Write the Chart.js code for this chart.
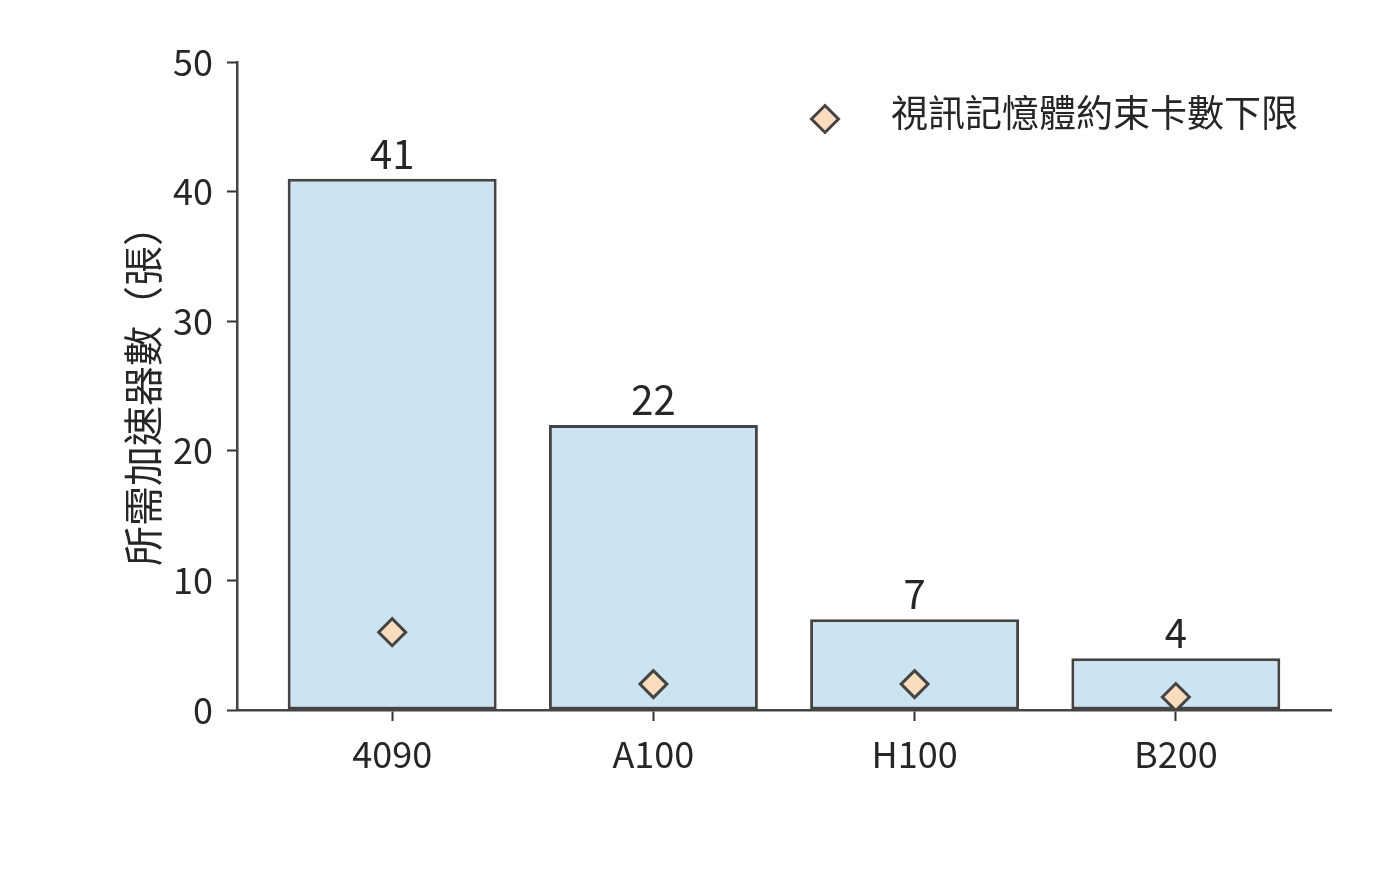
<!DOCTYPE html>
<html>
<head>
<meta charset="utf-8">
<script src="https://cdn.jsdelivr.net/npm/chart.js@4.4.1/dist/chart.umd.min.js"></script>
<style>
  html, body { margin: 0; padding: 0; background: #fff; }
</style>
</head>
<body>
<canvas id="myChart" width="1400" height="888"></canvas>
<script>
// data
const gpus = ['4090', 'A100', 'H100', 'B200'];
const cardsNeeded = [41, 22, 7, 4];
const vramFloor = [6, 2, 2, 1];
const legendLabel = '視訊記憶體約束卡數下限';
const yTitle = '所需加速器數（張）';

const FONT = '"Noto Sans CJK TC", "Noto Sans CJK SC", "Noto Sans", sans-serif';
const INK = '#262626';
const EDGE = '#444444';
const BAR_FILL = 'rgb(205, 227, 242)';
const DIAMOND_FILL = 'rgb(251, 220, 188)';

Chart.defaults.font.family = FONT;
Chart.defaults.color = INK;

// numbers over the bars
const barLabels = {
    id: 'barLabels',
    afterDatasetsDraw(chart) {
        const ctx = chart.ctx;
        const meta = chart.getDatasetMeta(0);
        ctx.save();
        ctx.font = '40px ' + FONT;
        ctx.fillStyle = INK;
        ctx.textAlign = 'center';
        ctx.textBaseline = 'alphabetic';
        meta.data.forEach((bar, i) => {
            ctx.fillText(String(cardsNeeded[i]), bar.x, bar.y - 10);
        });
        ctx.restore();
    }
};

// legend sitting inside the plot, top right (matplotlib style)
const innerLegend = {
    id: 'innerLegend',
    afterDraw(chart) {
        const ctx = chart.ctx;
        const area = chart.chartArea;
        ctx.save();
        ctx.font = '37px ' + FONT;
        ctx.fillStyle = INK;
        ctx.textAlign = 'right';
        ctx.textBaseline = 'middle';
        const textRight = area.right - 33;
        const textX = textRight - ctx.measureText(legendLabel).width;
        ctx.fillText(legendLabel, textRight, area.top + 51);
        ctx.fillStyle = DIAMOND_FILL;
        ctx.strokeStyle = EDGE;
        ctx.lineWidth = 3;
        Chart.helpers.drawPoint(ctx, {pointStyle: 'rectRot', radius: 13.5, rotation: 0, borderWidth: 3}, textX - 66, area.top + 57);
        ctx.restore();
    }
};

const data = {
    datasets: [{
        type: 'bar',
        label: 'cards',
        data: cardsNeeded.map((v, i) => ({x: i, y: v})),
        backgroundColor: BAR_FILL,
        borderColor: EDGE,
        borderWidth: 3,
        borderSkipped: false,
        barPercentage: 0.8,
        categoryPercentage: 1.0,
        order: 1
    }, {
        type: 'scatter',
        label: legendLabel,
        data: vramFloor.map((v, i) => ({x: i, y: v})),
        pointStyle: 'rectRot',
        pointRadius: 13.5,
        pointBackgroundColor: DIAMOND_FILL,
        pointBorderColor: EDGE,
        pointBorderWidth: 3,
        order: 0
    }]
};

const config = {
    type: 'bar',
    data,
    options: {
        responsive: false,
        animation: false,
        events: [],
        layout: {
            padding: {top: 62, right: 69, bottom: 0, left: 0}
        },
        scales: {
            x: {
                type: 'linear',
                offset: false,
                min: -0.594,
                max: gpus.length - 1 + 0.594,
                afterBuildTicks(scale) {
                    scale.ticks = gpus.map((_, i) => ({value: i}));
                },
                afterFit(scale) {
                    scale.height = 178;
                },
                border: {display: true, color: EDGE, width: 2.5},
                grid: {
                    display: true,
                    offset: false,
                    drawOnChartArea: false,
                    drawTicks: true,
                    tickLength: 11,
                    tickWidth: 2,
                    tickColor: '#333'
                },
                ticks: {
                    padding: 12,
                    maxRotation: 0,
                    font: {size: 36},
                    color: INK,
                    callback: (v) => gpus[v]
                }
            },
            y: {
                min: 0,
                max: 50,
                afterFit(scale) {
                    scale.width = 237;
                },
                border: {display: true, color: EDGE, width: 2.5},
                grid: {
                    display: true,
                    drawOnChartArea: false,
                    drawTicks: true,
                    tickLength: 10,
                    tickWidth: 2,
                    tickColor: '#333'
                },
                ticks: {
                    stepSize: 10,
                    padding: 14,
                    font: {size: 36},
                    color: INK
                },
                title: {
                    display: true,
                    text: yTitle,
                    color: INK,
                    font: {size: 40},
                    padding: {top: 119, bottom: 0}
                }
            }
        },
        plugins: {
            legend: {display: false},
            tooltip: {enabled: false}
        }
    },
    plugins: [barLabels, innerLegend]
};

var myChart = new Chart(
    document.getElementById('myChart'),
    config
);
</script>
</body>
</html>
